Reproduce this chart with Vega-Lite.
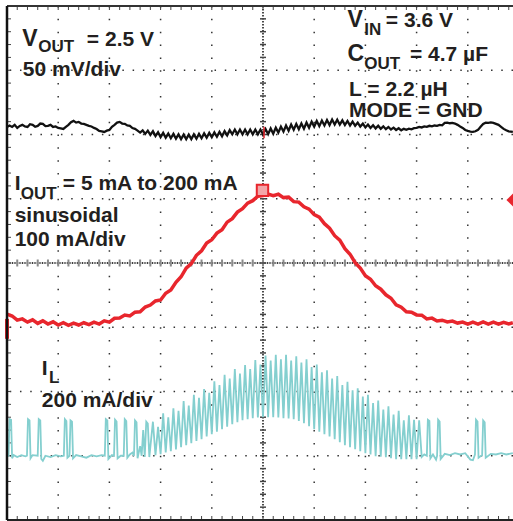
{
  "$schema": "https://vega.github.io/schema/vega-lite/v6.json",
  "width": 506,
  "height": 514,
  "padding": {"left": 7, "top": 6, "right": 0, "bottom": 1},
  "autosize": {"type": "none"},
  "background": "white",
  "config": {"view": {"stroke": null}},
  "datasets": {
    "vgrid": [{"t": 1}, {"t": 2}, {"t": 3}, {"t": 4}, {"t": 6}, {"t": 7}, {"t": 8}, {"t": 9}],
    "hgrid": [{"v": -3}, {"v": -2}, {"v": -1}, {"v": 1}, {"v": 2}, {"v": 3}],
    "mx": [{"t":0.2},{"t":0.4},{"t":0.6},{"t":0.8},{"t":1},{"t":1.2},{"t":1.4},{"t":1.6},{"t":1.8},{"t":2},{"t":2.2},{"t":2.4},{"t":2.6},{"t":2.8},{"t":3},{"t":3.2},{"t":3.4},{"t":3.6},{"t":3.8},{"t":4},{"t":4.2},{"t":4.4},{"t":4.6},{"t":4.8},{"t":5},{"t":5.2},{"t":5.4},{"t":5.6},{"t":5.8},{"t":6},{"t":6.2},{"t":6.4},{"t":6.6},{"t":6.8},{"t":7},{"t":7.2},{"t":7.4},{"t":7.6},{"t":7.8},{"t":8},{"t":8.2},{"t":8.4},{"t":8.6},{"t":8.8},{"t":9},{"t":9.2},{"t":9.4},{"t":9.6},{"t":9.8}],
    "my": [{"v":-3.8},{"v":-3.6},{"v":-3.4},{"v":-3.2},{"v":-3},{"v":-2.8},{"v":-2.6},{"v":-2.4},{"v":-2.2},{"v":-2},{"v":-1.8},{"v":-1.6},{"v":-1.4},{"v":-1.2},{"v":-1},{"v":-0.8},{"v":-0.6},{"v":-0.4},{"v":-0.2},{"v":0},{"v":0.2},{"v":0.4},{"v":0.6},{"v":0.8},{"v":1},{"v":1.2},{"v":1.4},{"v":1.6},{"v":1.8},{"v":2},{"v":2.2},{"v":2.4},{"v":2.6},{"v":2.8},{"v":3},{"v":3.2},{"v":3.4},{"v":3.6},{"v":3.8}],
    "vout": [
      {"t":0.0,"v":2.118},{"t":0.05,"v":2.140},{"t":0.1,"v":2.118},{"t":0.15,"v":2.150},{"t":0.2,"v":2.103},{"t":0.25,"v":2.134},{"t":0.3,"v":2.150},{"t":0.35,"v":2.125},{"t":0.4,"v":2.118},{"t":0.45,"v":2.160},{"t":0.5,"v":2.150},{"t":0.55,"v":2.120},{"t":0.6,"v":2.134},{"t":0.65,"v":2.170},{"t":0.7,"v":2.165},{"t":0.75,"v":2.130},{"t":0.8,"v":2.134},{"t":0.85,"v":2.150},{"t":0.9,"v":2.118},{"t":0.95,"v":2.125},
      {"t":1.0,"v":2.103},{"t":1.05,"v":2.095},{"t":1.1,"v":2.087},{"t":1.15,"v":2.120},{"t":1.2,"v":2.150},{"t":1.25,"v":2.190},{"t":1.3,"v":2.212},{"t":1.35,"v":2.185},{"t":1.4,"v":2.196},{"t":1.45,"v":2.170},{"t":1.5,"v":2.165},{"t":1.55,"v":2.150},{"t":1.6,"v":2.134},{"t":1.65,"v":2.125},{"t":1.7,"v":2.103},{"t":1.75,"v":2.085},{"t":1.8,"v":2.056},{"t":1.85,"v":2.050},{"t":1.9,"v":2.040},{"t":1.95,"v":2.060},
      {"t":2.0,"v":2.072},{"t":2.05,"v":2.120},{"t":2.1,"v":2.150},{"t":2.15,"v":2.185},{"t":2.2,"v":2.196},{"t":2.25,"v":2.170},{"t":2.3,"v":2.165},{"t":2.35,"v":2.140},{"t":2.4,"v":2.134},{"t":2.45,"v":2.100},{"t":2.5,"v":2.087},{"t":2.55,"v":2.060},{"t":2.6,"v":2.030},
      {"t":2.65,"v":2.065},{"t":2.70,"v":2.010},{"t":2.75,"v":2.060},{"t":2.80,"v":1.995},{"t":2.85,"v":2.050},{"t":2.90,"v":1.975},{"t":2.95,"v":2.035},{"t":3.00,"v":1.960},
      {"t":3.05,"v":2.025},{"t":3.10,"v":1.950},{"t":3.15,"v":2.015},{"t":3.20,"v":1.942},{"t":3.25,"v":2.010},{"t":3.30,"v":1.935},{"t":3.35,"v":2.002},{"t":3.40,"v":1.928},{"t":3.45,"v":1.998},{"t":3.50,"v":1.928},
      {"t":3.55,"v":1.998},{"t":3.60,"v":1.928},{"t":3.65,"v":2.002},{"t":3.70,"v":1.935},{"t":3.75,"v":2.010},{"t":3.80,"v":1.942},{"t":3.85,"v":2.017},{"t":3.90,"v":1.950},{"t":3.95,"v":2.025},{"t":4.00,"v":1.958},
      {"t":4.05,"v":2.033},{"t":4.10,"v":1.965},{"t":4.15,"v":2.040},{"t":4.20,"v":1.973},{"t":4.25,"v":2.053},{"t":4.30,"v":1.988},{"t":4.35,"v":2.068},{"t":4.40,"v":2.003},{"t":4.45,"v":2.077},{"t":4.50,"v":2.003},
      {"t":4.55,"v":2.077},{"t":4.60,"v":2.003},{"t":4.65,"v":2.077},{"t":4.70,"v":2.003},{"t":4.75,"v":2.077},{"t":4.80,"v":2.003},{"t":4.85,"v":2.077},{"t":4.90,"v":2.003},{"t":4.95,"v":2.077},{"t":5.00,"v":2.003},
      {"t":5.05,"v":2.085},{"t":5.10,"v":2.005},{"t":5.15,"v":2.093},{"t":5.20,"v":2.013},{"t":5.25,"v":2.107},{"t":5.30,"v":2.029},{"t":5.35,"v":2.123},{"t":5.40,"v":2.045},{"t":5.45,"v":2.140},{"t":5.50,"v":2.060},
      {"t":5.55,"v":2.155},{"t":5.60,"v":2.075},{"t":5.65,"v":2.165},{"t":5.70,"v":2.083},{"t":5.75,"v":2.173},{"t":5.80,"v":2.090},{"t":5.85,"v":2.185},{"t":5.90,"v":2.105},{"t":5.95,"v":2.200},{"t":6.00,"v":2.123},
      {"t":6.05,"v":2.210},{"t":6.10,"v":2.130},{"t":6.15,"v":2.217},{"t":6.20,"v":2.140},{"t":6.25,"v":2.225},{"t":6.30,"v":2.147},{"t":6.35,"v":2.233},{"t":6.40,"v":2.155},{"t":6.45,"v":2.230},{"t":6.50,"v":2.153},
      {"t":6.55,"v":2.220},{"t":6.60,"v":2.147},{"t":6.65,"v":2.210},{"t":6.70,"v":2.140},{"t":6.75,"v":2.200},{"t":6.80,"v":2.135},{"t":6.85,"v":2.185},{"t":6.90,"v":2.123},{"t":6.95,"v":2.168},{"t":7.00,"v":2.110},
      {"t":7.05,"v":2.155},{"t":7.10,"v":2.102},{"t":7.15,"v":2.145},{"t":7.20,"v":2.095},{"t":7.25,"v":2.137},{"t":7.30,"v":2.088},{"t":7.35,"v":2.127},{"t":7.40,"v":2.083},{"t":7.45,"v":2.117},{"t":7.50,"v":2.078},
      {"t":7.55,"v":2.107},{"t":7.60,"v":2.071},{"t":7.65,"v":2.097},{"t":7.70,"v":2.065},{"t":7.75,"v":2.088},{"t":7.80,"v":2.072},{"t":7.85,"v":2.090},{"t":7.9,"v":2.080},{"t":7.95,"v":2.098},{"t":8.0,"v":2.103},{"t":8.05,"v":2.118},{"t":8.1,"v":2.110},{"t":8.15,"v":2.125},{"t":8.2,"v":2.118},
      {"t":8.25,"v":2.135},{"t":8.3,"v":2.126},{"t":8.35,"v":2.140},{"t":8.4,"v":2.134},{"t":8.45,"v":2.150},{"t":8.5,"v":2.142},{"t":8.55,"v":2.180},{"t":8.6,"v":2.185},{"t":8.65,"v":2.175},{"t":8.7,"v":2.181},{"t":8.75,"v":2.170},{"t":8.8,"v":2.150},{"t":8.85,"v":2.125},{"t":8.9,"v":2.103},{"t":8.95,"v":2.070},{"t":9.0,"v":2.056},{"t":9.05,"v":2.045},{"t":9.1,"v":2.040},{"t":9.15,"v":2.050},{"t":9.2,"v":2.072},
      {"t":9.25,"v":2.120},{"t":9.3,"v":2.165},{"t":9.35,"v":2.185},{"t":9.4,"v":2.181},{"t":9.45,"v":2.188},{"t":9.5,"v":2.181},{"t":9.55,"v":2.165},{"t":9.6,"v":2.150},{"t":9.65,"v":2.120},{"t":9.7,"v":2.087},{"t":9.75,"v":2.065},{"t":9.8,"v":2.050},{"t":9.88,"v":2.040}
    ],
    "iout": [
      {"t":0.0,"v":-0.794},{"t":0.1,"v":-0.825},{"t":0.2,"v":-0.890},{"t":0.3,"v":-0.870},{"t":0.4,"v":-0.920},{"t":0.5,"v":-0.885},{"t":0.6,"v":-0.940},{"t":0.7,"v":-0.900},{"t":0.8,"v":-0.950},{"t":0.9,"v":-0.915},
      {"t":1.0,"v":-0.965},{"t":1.1,"v":-0.930},{"t":1.2,"v":-0.970},{"t":1.3,"v":-0.935},{"t":1.4,"v":-0.965},{"t":1.5,"v":-0.930},{"t":1.6,"v":-0.960},{"t":1.7,"v":-0.920},{"t":1.8,"v":-0.950},{"t":1.9,"v":-0.900},
      {"t":2.0,"v":-0.920},{"t":2.1,"v":-0.860},{"t":2.2,"v":-0.855},{"t":2.3,"v":-0.810},{"t":2.4,"v":-0.825},{"t":2.5,"v":-0.765},{"t":2.6,"v":-0.760},{"t":2.7,"v":-0.685},{"t":2.8,"v":-0.655},{"t":2.9,"v":-0.590},
      {"t":3.0,"v":-0.575},{"t":3.1,"v":-0.470},{"t":3.2,"v":-0.420},{"t":3.3,"v":-0.300},{"t":3.4,"v":-0.215},{"t":3.5,"v":-0.080},{"t":3.6,"v":-0.010},{"t":3.7,"v":0.120},{"t":3.8,"v":0.190},{"t":3.9,"v":0.310},
      {"t":4.0,"v":0.362},{"t":4.1,"v":0.465},{"t":4.2,"v":0.518},{"t":4.3,"v":0.636},{"t":4.4,"v":0.690},{"t":4.5,"v":0.792},{"t":4.6,"v":0.845},{"t":4.7,"v":0.932},{"t":4.8,"v":0.970},{"t":4.9,"v":1.040},
      {"t":5.0,"v":1.050},{"t":5.1,"v":1.072},{"t":5.2,"v":1.048},{"t":5.3,"v":1.070},{"t":5.4,"v":1.018},{"t":5.5,"v":1.025},{"t":5.6,"v":0.955},{"t":5.7,"v":0.948},{"t":5.8,"v":0.876},{"t":5.9,"v":0.838},
      {"t":6.0,"v":0.752},{"t":6.1,"v":0.713},{"t":6.2,"v":0.612},{"t":6.3,"v":0.542},{"t":6.4,"v":0.425},{"t":6.5,"v":0.355},{"t":6.6,"v":0.222},{"t":6.7,"v":0.137},{"t":6.8,"v":0.005},{"t":6.9,"v":-0.080},
      {"t":7.0,"v":-0.198},{"t":7.1,"v":-0.252},{"t":7.2,"v":-0.355},{"t":7.3,"v":-0.408},{"t":7.4,"v":-0.495},{"t":7.5,"v":-0.548},{"t":7.6,"v":-0.650},{"t":7.7,"v":-0.688},{"t":7.8,"v":-0.760},{"t":7.9,"v":-0.765},
      {"t":8.0,"v":-0.808},{"t":8.1,"v":-0.812},{"t":8.2,"v":-0.870},{"t":8.3,"v":-0.858},{"t":8.4,"v":-0.902},{"t":8.5,"v":-0.890},{"t":8.6,"v":-0.918},{"t":8.7,"v":-0.905},{"t":8.8,"v":-0.935},{"t":8.9,"v":-0.920},
      {"t":9.0,"v":-0.950},{"t":9.1,"v":-0.920},{"t":9.2,"v":-0.950},{"t":9.3,"v":-0.918},{"t":9.4,"v":-0.950},{"t":9.5,"v":-0.920},{"t":9.6,"v":-0.952},{"t":9.7,"v":-0.922},{"t":9.8,"v":-0.948},{"t":9.88,"v":-0.930}
    ],
    "il": [
      {"t":0.00,"v":-3.00},{"t":0.03,"v":-3.00},{"t":0.05,"v":-2.43},{"t":0.08,"v":-2.44},{"t":0.10,"v":-3.04},{"t":0.13,"v":-2.99},{"t":0.20,"v":-3.02},{"t":0.28,"v":-2.99},{"t":0.36,"v":-3.01},{"t":0.39,"v":-3.00},
      {"t":0.41,"v":-2.43},{"t":0.44,"v":-2.45},{"t":0.46,"v":-3.04},{"t":0.50,"v":-2.99},{"t":0.60,"v":-3.00},{"t":0.62,"v":-2.43},{"t":0.65,"v":-2.45},{"t":0.67,"v":-3.05},{"t":0.70,"v":-3.08},{"t":0.75,"v":-3.00},
      {"t":0.85,"v":-3.02},{"t":0.95,"v":-2.99},{"t":1.05,"v":-3.01},{"t":1.11,"v":-3.00},{"t":1.13,"v":-2.43},{"t":1.16,"v":-2.46},{"t":1.18,"v":-3.03},{"t":1.22,"v":-3.00},{"t":1.24,"v":-2.45},{"t":1.27,"v":-2.47},
      {"t":1.29,"v":-3.04},{"t":1.35,"v":-2.99},{"t":1.45,"v":-3.01},{"t":1.55,"v":-3.03},{"t":1.65,"v":-2.99},{"t":1.75,"v":-3.01},{"t":1.85,"v":-2.99},{"t":1.91,"v":-3.00},{"t":1.93,"v":-2.43},{"t":1.96,"v":-2.45},
      {"t":1.98,"v":-3.05},{"t":2.05,"v":-2.99},{"t":2.09,"v":-3.00},{"t":2.11,"v":-2.44},{"t":2.14,"v":-2.47},{"t":2.16,"v":-3.04},{"t":2.22,"v":-3.00},{"t":2.28,"v":-3.00},{"t":2.30,"v":-2.43},{"t":2.33,"v":-2.46},
      {"t":2.35,"v":-3.03},{"t":2.40,"v":-2.98},{"t":2.45,"v":-2.95},{"t":2.48,"v":-3.00},{"t":2.50,"v":-2.45},{"t":2.53,"v":-2.48},{"t":2.55,"v":-3.04},{"t":2.60,"v":-2.85},{"t":2.63,"v":-3.00},{"t":2.66,"v":-2.60},
      {"t":2.69,"v":-3.02},{"t":2.72,"v":-2.47},{"t":2.75,"v":-2.50},{"t":2.78,"v":-3.02},
      {"t":2.85,"v":-2.47},{"t":2.90,"v":-2.99},{"t":2.95,"v":-2.55},{"t":3.00,"v":-2.975},{"t":3.05,"v":-2.34},{"t":3.10,"v":-2.95},{"t":3.15,"v":-2.40},{"t":3.20,"v":-2.928},{"t":3.25,"v":-2.26},{"t":3.30,"v":-2.90},
      {"t":3.35,"v":-2.30},{"t":3.40,"v":-2.866},{"t":3.45,"v":-2.15},{"t":3.50,"v":-2.835},{"t":3.55,"v":-2.22},{"t":3.60,"v":-2.804},{"t":3.65,"v":-2.05},{"t":3.70,"v":-2.77},{"t":3.75,"v":-2.10},{"t":3.80,"v":-2.741},
      {"t":3.85,"v":-1.96},{"t":3.90,"v":-2.70},{"t":3.95,"v":-2.02},{"t":4.00,"v":-2.664},{"t":4.05,"v":-1.84},{"t":4.10,"v":-2.625},{"t":4.15,"v":-1.90},{"t":4.20,"v":-2.586},{"t":4.25,"v":-1.74},{"t":4.30,"v":-2.547},
      {"t":4.35,"v":-1.80},{"t":4.40,"v":-2.508},{"t":4.45,"v":-1.65},{"t":4.50,"v":-2.477},{"t":4.55,"v":-1.72},{"t":4.60,"v":-2.445},{"t":4.65,"v":-1.59},{"t":4.70,"v":-2.43},{"t":4.75,"v":-1.65},{"t":4.80,"v":-2.414},
      {"t":4.85,"v":-1.51},{"t":4.90,"v":-2.405},{"t":4.95,"v":-1.58},{"t":5.00,"v":-2.399},{"t":5.05,"v":-1.44},{"t":5.10,"v":-2.399},{"t":5.15,"v":-1.52},{"t":5.20,"v":-2.399},{"t":5.25,"v":-1.43},{"t":5.30,"v":-2.405},
      {"t":5.35,"v":-1.50},{"t":5.40,"v":-2.414},{"t":5.45,"v":-1.43},{"t":5.50,"v":-2.42},{"t":5.55,"v":-1.52},{"t":5.60,"v":-2.43},{"t":5.65,"v":-1.45},{"t":5.70,"v":-2.46},{"t":5.75,"v":-1.55},{"t":5.80,"v":-2.492},
      {"t":5.85,"v":-1.50},{"t":5.90,"v":-2.54},{"t":5.95,"v":-1.62},{"t":6.00,"v":-2.586},{"t":6.05,"v":-1.58},{"t":6.10,"v":-2.625},{"t":6.15,"v":-1.70},{"t":6.20,"v":-2.664},{"t":6.25,"v":-1.67},{"t":6.30,"v":-2.70},
      {"t":6.35,"v":-1.80},{"t":6.40,"v":-2.741},{"t":6.45,"v":-1.76},{"t":6.50,"v":-2.79},{"t":6.55,"v":-1.90},{"t":6.60,"v":-2.835},{"t":6.65,"v":-1.85},{"t":6.70,"v":-2.866},{"t":6.75,"v":-1.98},{"t":6.80,"v":-2.897},
      {"t":6.85,"v":-1.95},{"t":6.90,"v":-2.93},{"t":6.95,"v":-2.08},{"t":7.00,"v":-2.96},{"t":7.05,"v":-2.05},{"t":7.10,"v":-2.98},{"t":7.15,"v":-2.18},{"t":7.20,"v":-3.006},{"t":7.25,"v":-2.14},{"t":7.30,"v":-3.014},
      {"t":7.35,"v":-2.28},{"t":7.40,"v":-3.022},{"t":7.45,"v":-2.23},{"t":7.50,"v":-3.04},{"t":7.55,"v":-2.36},{"t":7.60,"v":-3.053},{"t":7.65,"v":-2.30},{"t":7.70,"v":-3.053},{"t":7.75,"v":-2.45},{"t":7.80,"v":-3.053},
      {"t":7.85,"v":-2.37},{"t":7.90,"v":-3.053},{"t":7.95,"v":-2.44},{"t":8.00,"v":-3.053},{"t":8.05,"v":-2.45},{"t":8.10,"v":-3.02},
      {"t":8.15,"v":-2.98},{"t":8.20,"v":-3.00},{"t":8.22,"v":-2.44},{"t":8.25,"v":-2.46},{"t":8.27,"v":-3.04},{"t":8.32,"v":-2.98},{"t":8.38,"v":-3.06},{"t":8.40,"v":-3.00},{"t":8.42,"v":-2.44},{"t":8.45,"v":-2.47},
      {"t":8.47,"v":-3.05},{"t":8.55,"v":-2.97},{"t":8.65,"v":-2.99},{"t":8.75,"v":-2.96},{"t":8.85,"v":-2.98},{"t":8.95,"v":-2.96},{"t":9.05,"v":-3.06},{"t":9.10,"v":-3.07},{"t":9.14,"v":-2.98},{"t":9.16,"v":-2.44},
      {"t":9.19,"v":-2.47},{"t":9.21,"v":-3.03},{"t":9.28,"v":-2.99},{"t":9.30,"v":-2.45},{"t":9.33,"v":-2.48},{"t":9.35,"v":-3.03},{"t":9.45,"v":-2.97},{"t":9.55,"v":-2.98},{"t":9.65,"v":-2.96},{"t":9.75,"v":-2.98},{"t":9.88,"v":-2.96}
    ],
    "txtBig": [
      {"t":0.30,"v":3.38,"label":"V"},
      {"t":6.65,"v":3.68,"label":"V"},
      {"t":6.65,"v":3.15,"label":"C"}
    ],
    "txtMain": [
      {"t":1.56,"v":3.38,"label":"= 2.5 V"},
      {"t":0.31,"v":2.91,"label":"50 mV/div"},
      {"t":7.40,"v":3.68,"label":"= 3.6 V"},
      {"t":7.87,"v":3.15,"label":"= 4.7 µF"},
      {"t":6.68,"v":2.60,"label":"L = 2.2 µH"},
      {"t":6.68,"v":2.27,"label":"MODE = GND"},
      {"t":0.15,"v":1.14,"label":"I"},
      {"t":1.09,"v":1.14,"label":"= 5 mA to 200 mA"},
      {"t":0.15,"v":0.64,"label":"sinusoidal"},
      {"t":0.15,"v":0.265,"label":"100 mA/div"},
      {"t":0.68,"v":-1.74,"label":"I"},
      {"t":0.68,"v":-2.24,"label":"200 mA/div"}
    ],
    "txtSub": [
      {"t":0.61,"v":3.29,"label":"OUT"},
      {"t":6.98,"v":3.55,"label":"IN"},
      {"t":6.98,"v":3.02,"label":"OUT"},
      {"t":0.27,"v":1.00,"label":"OUT"},
      {"t":0.82,"v":-1.87,"label":"L"}
    ],
    "chMark": [{"t":0, "v":-0.87, "v2":-1.18}],
    "trigMark": [{"t":5.02, "v":2.12, "v2":1.94}],
    "trigT": [{"t":4.99, "v":1.13}],
    "trigLvl": [{"t":9.90, "v":0.98}]
  },
  "encoding": {
    "x": {"type": "quantitative", "scale": {"domain": [0, 9.883], "nice": false, "zero": false}, "axis": null},
    "y": {"type": "quantitative", "scale": {"domain": [-4, 4], "nice": false, "zero": false}, "axis": null}
  },
  "layer": [
    {
      "data": {"name": "vgrid"},
      "mark": {"type": "rule", "color": "#333333", "strokeWidth": 1.5, "strokeDash": [1.5, 11.35], "strokeCap": "butt"},
      "encoding": {"x": {"field": "t", "type": "quantitative", "axis": null}}
    },
    {
      "data": {"name": "hgrid"},
      "mark": {"type": "rule", "color": "#333333", "strokeWidth": 1.5, "strokeDash": [1.5, 8.74], "strokeCap": "butt"},
      "encoding": {"y": {"field": "v", "type": "quantitative", "axis": null}}
    },
    {
      "data": {"values": [{"v": 0}]},
      "mark": {"type": "rule", "color": "#9a9a9a", "strokeWidth": 1},
      "encoding": {"y": {"field": "v", "type": "quantitative", "axis": null}}
    },
    {
      "data": {"values": [{"v": 0}]},
      "mark": {"type": "rule", "color": "#111111", "strokeWidth": 1.5, "strokeDash": [1, 1.5]},
      "encoding": {"y": {"field": "v", "type": "quantitative", "axis": null}}
    },
    {
      "data": {"values": [{"t": 5}]},
      "mark": {"type": "rule", "color": "#111111", "strokeWidth": 1.5, "strokeDash": [1.5, 1.5]},
      "encoding": {"x": {"field": "t", "type": "quantitative", "axis": null}}
    },
    {
      "data": {"name": "mx"},
      "mark": {"type": "tick", "orient": "vertical", "color": "#8a8a8a", "size": 7, "thickness": 2, "opacity": 1},
      "encoding": {"x": {"field": "t", "type": "quantitative", "axis": null}, "y": {"datum": 0}}
    },
    {
      "data": {"name": "my"},
      "mark": {"type": "tick", "orient": "horizontal", "color": "#444444", "size": 6, "thickness": 1.5, "opacity": 1},
      "encoding": {"y": {"field": "v", "type": "quantitative", "axis": null}, "x": {"datum": 5}}
    },
    {
      "data": {"name": "mx"},
      "mark": {"type": "tick", "orient": "vertical", "color": "#444444", "size": 4, "thickness": 1, "yOffset": 2, "opacity": 1},
      "encoding": {"x": {"field": "t", "type": "quantitative", "axis": null}, "y": {"datum": 4}}
    },
    {
      "data": {"name": "mx"},
      "mark": {"type": "tick", "orient": "vertical", "color": "#444444", "size": 4, "thickness": 1, "yOffset": -2, "opacity": 1},
      "encoding": {"x": {"field": "t", "type": "quantitative", "axis": null}, "y": {"datum": -4}}
    },
    {
      "data": {"name": "my"},
      "mark": {"type": "tick", "orient": "horizontal", "color": "#444444", "size": 3, "thickness": 1, "xOffset": 2.5, "opacity": 1},
      "encoding": {"y": {"field": "v", "type": "quantitative", "axis": null}, "x": {"datum": 0}}
    },
    {
      "data": {"name": "il"},
      "mark": {"type": "line", "color": "#84cfcf", "strokeWidth": 1.8},
      "encoding": {
        "x": {"field": "t", "type": "quantitative", "axis": null},
        "y": {"field": "v", "type": "quantitative", "axis": null}
      }
    },
    {
      "data": {"name": "iout"},
      "mark": {"type": "line", "color": "#e8262d", "strokeWidth": 3.5},
      "encoding": {
        "x": {"field": "t", "type": "quantitative", "axis": null},
        "y": {"field": "v", "type": "quantitative", "axis": null}
      }
    },
    {
      "data": {"name": "vout"},
      "mark": {"type": "line", "color": "#111111", "strokeWidth": 2.3},
      "encoding": {
        "x": {"field": "t", "type": "quantitative", "axis": null},
        "y": {"field": "v", "type": "quantitative", "axis": null}
      }
    },
    {
      "data": {"name": "trigMark"},
      "mark": {"type": "rule", "color": "#e8262d", "strokeWidth": 1.5},
      "encoding": {
        "x": {"field": "t", "type": "quantitative", "axis": null},
        "y": {"field": "v", "type": "quantitative", "axis": null},
        "y2": {"field": "v2"}
      }
    },
    {
      "data": {"values": [{"v": 4}]},
      "mark": {"type": "rule", "color": "#333333", "strokeWidth": 2},
      "encoding": {"y": {"field": "v", "type": "quantitative", "axis": null}}
    },
    {
      "data": {"values": [{"v": -4}]},
      "mark": {"type": "rule", "color": "#222222", "strokeWidth": 2},
      "encoding": {"y": {"field": "v", "type": "quantitative", "axis": null}}
    },
    {
      "data": {"name": "chMark"},
      "mark": {"type": "rule", "color": "#e8262d", "strokeWidth": 4},
      "encoding": {
        "x": {"field": "t", "type": "quantitative", "axis": null},
        "y": {"field": "v", "type": "quantitative", "axis": null},
        "y2": {"field": "v2"}
      }
    },
    {
      "data": {"values": [{"t": 0}]},
      "mark": {"type": "rule", "color": "#111111", "strokeWidth": 2.5},
      "encoding": {"x": {"field": "t", "type": "quantitative", "axis": null}}
    },
    {
      "data": {"name": "trigT"},
      "mark": {"type": "point", "shape": "square", "size": 130, "filled": true, "fill": "#f3a6a9", "stroke": "#e8262d", "strokeWidth": 2, "opacity": 1},
      "encoding": {
        "x": {"field": "t", "type": "quantitative", "axis": null},
        "y": {"field": "v", "type": "quantitative", "axis": null}
      }
    },
    {
      "data": {"name": "trigLvl"},
      "mark": {"type": "point", "shape": "diamond", "size": 220, "filled": true, "color": "#e8262d", "opacity": 1, "clip": false},
      "encoding": {
        "x": {"field": "t", "type": "quantitative", "axis": null},
        "y": {"field": "v", "type": "quantitative", "axis": null}
      }
    },
    {
      "data": {"name": "txtBig"},
      "mark": {"type": "text", "font": "Liberation Sans", "fontWeight": "bold", "fontSize": 23, "align": "left", "baseline": "alphabetic", "color": "#231f20"},
      "encoding": {
        "x": {"field": "t", "type": "quantitative", "axis": null},
        "y": {"field": "v", "type": "quantitative", "axis": null},
        "text": {"field": "label"}
      }
    },
    {
      "data": {"name": "txtMain"},
      "mark": {"type": "text", "font": "Liberation Sans", "fontWeight": "bold", "fontSize": 21, "align": "left", "baseline": "alphabetic", "color": "#231f20"},
      "encoding": {
        "x": {"field": "t", "type": "quantitative", "axis": null},
        "y": {"field": "v", "type": "quantitative", "axis": null},
        "text": {"field": "label"}
      }
    },
    {
      "data": {"name": "txtSub"},
      "mark": {"type": "text", "font": "Liberation Sans", "fontWeight": "bold", "fontSize": 17, "align": "left", "baseline": "alphabetic", "color": "#231f20"},
      "encoding": {
        "x": {"field": "t", "type": "quantitative", "axis": null},
        "y": {"field": "v", "type": "quantitative", "axis": null},
        "text": {"field": "label"}
      }
    }
  ]
}
